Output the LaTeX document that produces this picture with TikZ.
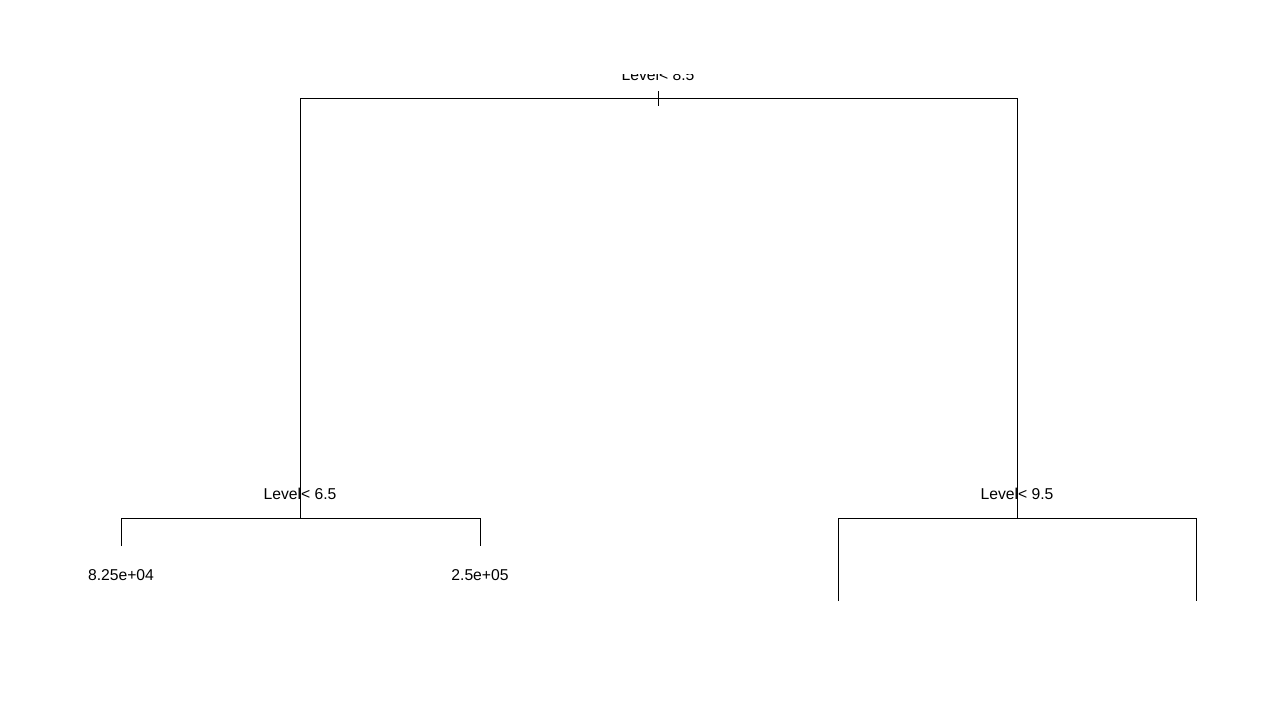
\documentclass[tikz,border=0pt]{standalone}
\usepackage{fontspec}
\setmainfont{Liberation Sans}
\begin{document}
\begin{tikzpicture}[x=1pt,y=-1pt,
  edge/.style={line width=1pt,black},
  lbl/.style={font=\fontsize{15.7}{18}\selectfont,inner sep=0pt,anchor=base}]
\useasboundingbox (0,0) rectangle (1280,720);
% coordinates
\coordinate (root) at (658,98);
\coordinate (rl) at (300,98);
\coordinate (rr) at (1017,98);
\coordinate (L) at (300,518);
\coordinate (R) at (1017,518);
\coordinate (LL) at (121,518);
\coordinate (LR) at (480,518);
\coordinate (RL) at (838,518);
\coordinate (RR) at (1196,518);
\coordinate (LLe) at (121,546);
\coordinate (LRe) at (480,546);
\coordinate (RLe) at (838,601);
\coordinate (RRe) at (1196,601);
\coordinate (tickt) at (658,91);
\coordinate (tickb) at (658,106);
% edges
\draw[edge] (L) -- (rl) -- (rr) -- (R);
\draw[edge] (tickt) -- (tickb);
\draw[edge] (LLe) -- (LL) -- (LR) -- (LRe);
\draw[edge] (RLe) -- (RL) -- (RR) -- (RRe);
% labels
\begin{scope}
\clip (0,74.5) rectangle (1280,90);
\node[lbl] (t0) at (658,80) {Level< 8.5};
\end{scope}
\node[lbl] (t1) at (300,499) {Level< 6.5};
\node[lbl] (t2) at (1017,499) {Level< 9.5};
\node[lbl] (t3) at (121,580) {8.25e+04};
\node[lbl] (t4) at (480,580) {2.5e+05};
\end{tikzpicture}
\end{document}
